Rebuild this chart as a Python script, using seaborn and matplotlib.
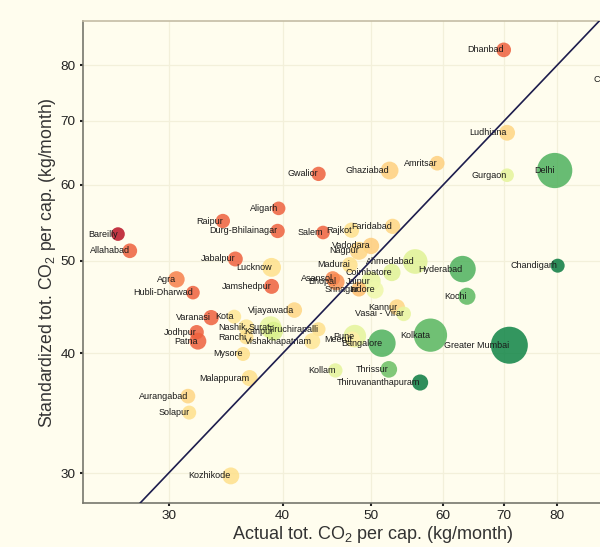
import numpy as np
import pandas as pd
import matplotlib
matplotlib.use("Agg")
import matplotlib.pyplot as plt
from matplotlib.ticker import FixedLocator, FixedFormatter, NullLocator
import seaborn as sns

# City-level per-capita CO2 emissions (kg/month)
city = [
    "Dhanbad", "Ludhiana", "Amritsar", "Ghaziabad", "Gurgaon", "Delhi", "Gwalior",
    "Aligarh", "Raipur", "Durg-Bhilainagar", "Salem", "Bareilly", "Allahabad",
    "Jabalpur", "Lucknow", "Agra", "Hubli-Dharwad", "Jamshedpur", "Vijayawada",
    "Varanasi", "Kota", "Nashik", "Surat", "Kanpur", "Tiruchirapalli", "Jodhpur",
    "Patna", "Ranchi", "Vishakhapatnam", "Mysore", "Malappuram", "Aurangabad",
    "Solapur", "Kozhikode", "Kollam", "Thrissur", "Thiruvananthapuram", "Kolkata",
    "Greater Mumbai", "Bangalore", "Pune", "Meerut", "Kannur", "Vasai - Virar",
    "Kochi", "Hyderabad", "Chandigarh", "Ahmedabad", "Coimbatore", "Jaipur",
    "Indore", "Srinagar", "Bhopal", "Asansol", "Madurai", "Vadodara", "Nagpur",
    "Rajkot", "Faridabad", "Chennai",
]
actual = [
    69.9, 70.5, 59.1, 52.4, 70.5, 79.5, 43.8,
    39.6, 34.4, 39.5, 44.3, 26.4, 27.2,
    35.5, 38.9, 30.6, 31.9, 38.9, 41.2,
    33.4, 35.4, 36.5, 38.8, 39.1, 43.8, 32.2,
    32.3, 36.5, 43.1, 36.2, 36.8, 31.5,
    31.6, 35.1, 45.7, 52.3, 56.6, 58.1,
    70.9, 51.4, 48.0, 47.7, 53.4, 54.3,
    63.7, 63.0, 80.1, 55.9, 52.7, 50.0,
    50.5, 48.5, 45.8, 45.4, 47.4, 50.0, 48.5,
    47.6, 52.8, 95.5,
]
standardized = [
    83.0, 68.0, 63.2, 62.1, 61.4, 62.1, 61.6,
    56.7, 55.0, 53.7, 53.5, 53.3, 51.2,
    50.2, 49.2, 47.8, 46.3, 47.0, 44.4,
    43.6, 43.7, 42.6, 42.6, 42.2, 42.4, 42.1,
    41.2, 41.6, 41.2, 39.95, 37.7, 36.1,
    34.7, 29.8, 38.4, 38.5, 37.3, 41.8,
    40.8, 41.0, 41.7, 41.4, 44.7, 44.0,
    45.9, 49.0, 49.4, 49.9, 48.6, 47.6,
    46.6, 46.7, 47.5, 47.9, 49.5, 51.8, 51.2,
    53.8, 54.3, 77.2,
]
# Urban population (millions)
population = [
    1.2, 1.6, 1.2, 2.4, 0.9, 16.3, 1.1,
    0.9, 1.1, 1.1, 0.9, 0.9, 1.2,
    1.3, 2.9, 1.8, 0.9, 1.3, 1.5,
    1.4, 1.0, 1.6, 4.6, 2.9, 1.0, 1.1,
    2.0, 1.1, 1.7, 1.0, 1.7, 1.2,
    1.0, 2.0, 1.1, 1.9, 1.7, 14.1,
    18.4, 8.5, 5.0, 1.4, 1.6, 1.2,
    2.1, 7.7, 1.0, 6.4, 2.2, 3.1,
    2.2, 1.3, 1.9, 1.2, 1.5, 1.8, 2.5,
    1.4, 1.4, 8.7,
]
# Colour index on the red-yellow-green scale
score = [
    0.18, 0.38, 0.37, 0.37, 0.57, 0.83, 0.18,
    0.18, 0.18, 0.18, 0.18, 0.04, 0.18,
    0.18, 0.40, 0.23, 0.18, 0.18, 0.38,
    0.18, 0.42, 0.42, 0.56, 0.60, 0.40, 0.18,
    0.18, 0.40, 0.42, 0.40, 0.40, 0.38,
    0.40, 0.40, 0.57, 0.79, 0.96, 0.82,
    0.94, 0.83, 0.57, 0.45, 0.38, 0.56,
    0.81, 0.83, 0.96, 0.58, 0.58, 0.56,
    0.54, 0.33, 0.26, 0.24, 0.40, 0.36, 0.38,
    0.40, 0.38, 0.83,
]

df = pd.DataFrame({"city": city, "actual": actual, "standardized": standardized,
                   "population": population, "score": score})

sns.set_theme(style="white")
plt.rcParams["font.family"] = ["Liberation Sans", "DejaVu Sans"]
plt.rcParams["mathtext.fontset"] = "custom"
plt.rcParams["mathtext.rm"] = "Liberation Sans"
plt.rcParams["mathtext.it"] = "Liberation Sans:italic"
plt.rcParams["mathtext.bf"] = "Liberation Sans:bold"

BG = "#fffdee"
W, H = 600, 547
fig = plt.figure(figsize=(W / 100, H / 100), dpi=100, facecolor=BG)
left, right, top, bottom = 82.7, 663.0, 21.3, 503.3
ax = fig.add_axes([left / W, (H - bottom) / H, (right - left) / W, (bottom - top) / H])
ax.set_facecolor(BG)
ax.set_xscale("log")
ax.set_yscale("log")

# marker diameter grows linearly with sqrt(population)
def marker_area(p):
    d_px = 7 + 7 * np.sqrt(p)
    return (d_px * 0.72) ** 2

size_map = {p: marker_area(p) for p in sorted(set(population))}

sns.scatterplot(data=df, x="actual", y="standardized", hue="score", size="population",
                palette="RdYlGn", hue_norm=(0, 1), sizes=size_map, alpha=0.85,
                linewidth=0, legend=False, ax=ax, zorder=2)

for _, r in df.iterrows():
    ax.text(r["actual"], r["standardized"], r["city"], ha="right", va="center",
            fontsize=6.5, color="#1a1a1a", zorder=3)

# 1:1 reference line
ref = np.array([20, 130])
ax.plot(ref, ref, color="#1d1d4d", lw=1.2, zorder=4)

ax.set_xlim(24.15, 104.5)
ax.set_ylim(27.9, 88.9)

xt = [30, 40, 50, 60, 70, 80]
yt = [30, 40, 50, 60, 70, 80]
ax.xaxis.set_major_locator(FixedLocator(xt))
ax.xaxis.set_major_formatter(FixedFormatter([str(v) for v in xt]))
ax.yaxis.set_major_locator(FixedLocator(yt))
ax.yaxis.set_major_formatter(FixedFormatter([str(v) for v in yt]))
ax.xaxis.set_minor_locator(NullLocator())
ax.yaxis.set_minor_locator(NullLocator())

ax.grid(True, which="major", color="#f3f0da", lw=0.9)
ax.set_axisbelow(True)

for s in ["left", "bottom"]:
    ax.spines[s].set_color("#77776d")
    ax.spines[s].set_linewidth(1.2)
ax.spines["top"].set_color("#c5bda5")
ax.spines["top"].set_linewidth(1.2)
ax.spines["right"].set_visible(False)

ax.tick_params(axis="both", which="major", direction="out", length=2.5, width=1.5,
               color="#222222", labelsize=9.7, labelcolor="#222222", pad=2.5,
               bottom=True, left=True)

ax.set_xlabel(r"Actual tot. CO$_\mathregular{2}$ per cap. (kg/month)", fontsize=13,
              color="#333333", labelpad=1)
ax.set_ylabel(r"Standardized tot. CO$_\mathregular{2}$ per cap. (kg/month)", fontsize=12.7,
              color="#333333", labelpad=2)

fig.savefig("out.png", dpi=100, facecolor=BG)
